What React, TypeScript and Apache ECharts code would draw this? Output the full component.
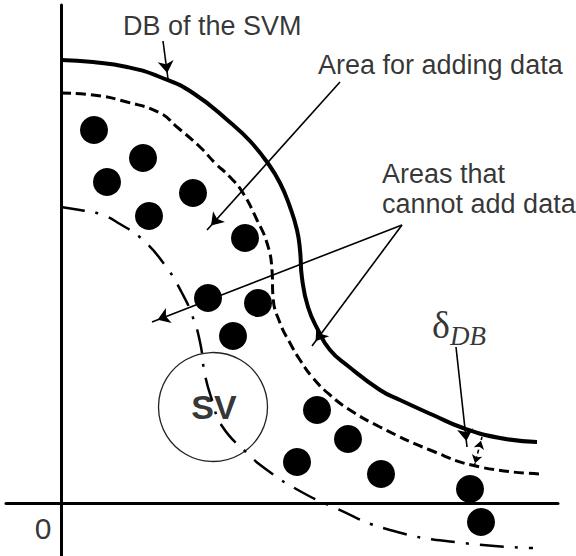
import React, { useEffect, useRef } from "react";
import * as echarts from "echarts";

// Coordinates: origin at the axes crossing, one unit ≈ one pixel of the figure.
const dbCurve: [number, number][] = [
  [0, 443], [32, 441], [66, 436], [99, 426], [132, 410], [171, 379], [189, 362],
  [206, 341], [219, 320], [229, 296], [236, 273], [239, 253], [241, 225],
  [247, 196], [257, 173], [269, 153], [287, 137], [319, 113], [339, 103], [372, 88],
  [402, 75], [439, 65], [476, 61],
];
const addAreaBoundary: [number, number][] = [
  [0, 410], [32, 408], [66, 401], [99, 390], [116, 376], [139, 356], [154, 340],
  [169, 326], [182, 310], [196, 283], [206, 260], [211, 233], [212, 206], [219, 180],
  [229, 160], [239, 143], [252, 125], [269, 108], [289, 93], [319, 76], [369, 53],
  [419, 36], [482, 29],
];
const svBoundary: [number, number][] = [
  [0, 296], [19, 293], [39, 289], [59, 279], [82, 263], [106, 235], [121, 210],
  [131, 188], [139, 161], [144, 128], [151, 103], [161, 77], [186, 50], [206, 33],
  [237, 13], [272, -4], [329, -27], [402, -40], [472, -45],
];
const samples: [number, number][] = [
  [33, 373], [82, 345], [46, 321], [132, 310], [88, 287], [184, 265], [147, 205],
  [197, 200], [172, 167], [236, 41], [256, 93], [287, 64], [320, 29], [409, 14], [420, -19],
];
const svPoint: [number, number][] = [[152, 96]];

const labelTexts = ["DB of the SVM", "Area for adding data", "Areas that", "cannot add data", "0", "SV", "δ", "DB"];
const labelAnchors: [number, number][] = [
  [62, 477], [257, 438], [321, 329], [321, 299], [-18, -25], [153, 96], [380, 178], [389, 167],
];

// arrows: [from, to]
const arrows: [[number, number], [number, number]][] = [
  [[102, 462], [107, 424]],
  [[279, 421], [146, 273]],
  [[341, 278], [91, 181]],
  [[341, 278], [251, 157]],
  [[395, 156], [406, 56]],
];
const deltaArrow: [[number, number], [number, number]] = [[413, 36], [421, 66]];

export default function App() {
  const ref = useRef<HTMLDivElement>(null);
  useEffect(() => {
    if (!ref.current) return;
    const chart = echarts.init(ref.current, null, { renderer: "svg" });
    const sans = "'Liberation Sans', Arial, Helvetica, sans-serif";
    const serif = "'Liberation Serif', 'Times New Roman', serif";
    const labelStyles: any[] = [
      { align: "left", fontSize: 27, fontFamily: sans },
      { align: "left", fontSize: 27, fontFamily: sans },
      { align: "left", fontSize: 27, fontFamily: sans },
      { align: "left", fontSize: 27, fontFamily: sans },
      { align: "center", fontSize: 30, fontFamily: sans },
      { align: "center", fontSize: 34, fontFamily: sans, fontWeight: "bold" },
      { align: "center", fontSize: 38, fontFamily: serif },
      { align: "left", fontSize: 27, fontFamily: serif, fontStyle: "italic" },
    ];
    const labelData = labelTexts.map((t, i) => ({
      value: labelAnchors[i],
      label: {
        show: true,
        formatter: t,
        position: [0, 0],
        verticalAlign: "middle",
        color: "#000",
        ...labelStyles[i],
      },
    }));
    const arrowData: any[] = arrows.map(([a, b]) => [
      { coord: a, symbol: "none" },
      { coord: b, symbol: "arrow", symbolSize: 12, symbolOffset: [0, 6] },
    ]);
    arrowData.push([
      { coord: deltaArrow[0], symbol: "arrow", symbolSize: 8, symbolOffset: [0, 4], lineStyle: { type: [4, 3] } },
      { coord: deltaArrow[1], symbol: "arrow", symbolSize: 8, symbolOffset: [0, 4], lineStyle: { type: [4, 3] } },
    ]);

    chart.setOption({
      animation: false,
      grid: { left: 6, right: 18, top: 5, bottom: 0 },
      xAxis: {
        type: "value", min: -55, max: 497,
        axisLine: { show: true, onZero: true, lineStyle: { color: "#000", width: 3 } },
        axisTick: { show: false }, axisLabel: { show: false }, splitLine: { show: false },
      },
      yAxis: {
        type: "value", min: -53, max: 498,
        axisLine: { show: true, onZero: true, lineStyle: { color: "#000", width: 3 } },
        axisTick: { show: false }, axisLabel: { show: false }, splitLine: { show: false },
      },
      series: [
        {
          type: "line", data: dbCurve, symbol: "none", smooth: 0.5, silent: true,
          lineStyle: { color: "#000", width: 4 },
        },
        {
          type: "line", data: addAreaBoundary, symbol: "none", smooth: 0.5, silent: true,
          lineStyle: { color: "#000", width: 3, type: [10, 5] },
        },
        {
          type: "line", data: svBoundary, symbol: "none", smooth: 0.5, silent: true,
          lineStyle: { color: "#000", width: 2.5, type: [24, 11, 3, 11] },
        },
        {
          type: "scatter", data: svPoint, symbol: "circle", symbolSize: 109, silent: true,
          itemStyle: { color: "rgba(0,0,0,0)", borderColor: "#222", borderWidth: 1.3, opacity: 1 },
        },
        {
          type: "scatter", data: samples, symbol: "circle", symbolSize: 28, silent: true,
          itemStyle: { color: "#000", opacity: 1 },
        },
        {
          type: "scatter", data: labelData, symbolSize: 0, silent: true,
          markLine: {
            silent: true, animation: false,
            label: { show: false },
            lineStyle: { color: "#000", width: 1.6, type: "solid" },
            emphasis: { disabled: true },
            data: arrowData,
          },
        },
      ],
    });
    return () => chart.dispose();
  }, []);
  return (
    <div
      ref={ref}
      style={{ position: "fixed", left: 0, top: 0, width: 576, height: 556, background: "#fff" }}
    />
  );
}
